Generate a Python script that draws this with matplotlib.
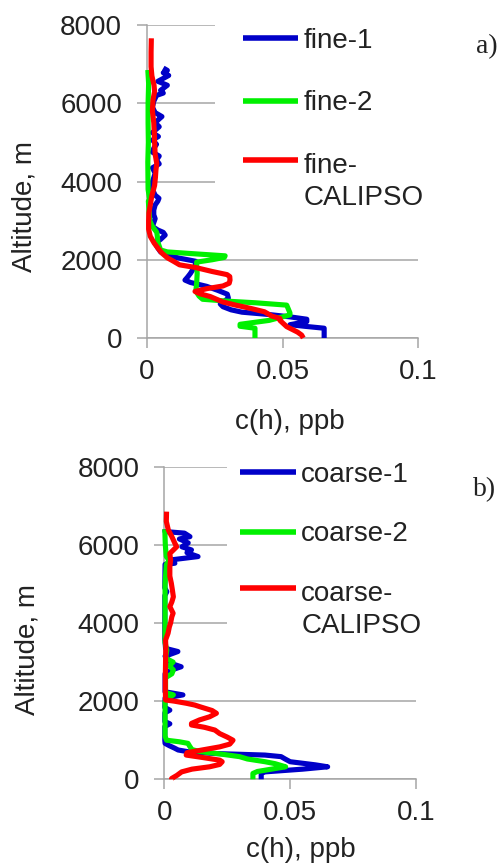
import numpy as np
import matplotlib
matplotlib.use("Agg")
import matplotlib.pyplot as plt
from matplotlib.legend_handler import HandlerLine2D

plt.rcParams['font.family'] = ['Liberation Sans', 'DejaVu Sans']

# ---------------- data (altitude m, concentration ppb) ----------------
fine1_h = [0, 250, 300, 340, 420, 480, 540, 600, 660, 720, 800, 870, 940, 1020, 1120, 1220,
           1320, 1420, 1480, 1560, 1650, 1760, 1860, 1960, 2040, 2120, 2200, 2300, 2420, 2520,
           2630, 2700, 2760, 2850, 2950, 3050, 3150, 3270, 3400, 3500, 3570, 3650, 3800, 3950,
           4100, 4210, 4350, 4450, 4550, 4650, 4750, 4850, 4950, 5060, 5150, 5250, 5400, 5500,
           5600, 5660, 5760, 5900, 6050, 6200, 6260, 6330, 6460, 6560, 6710, 6780, 6840, 6900]
fine1_c = [.0653, .0653, .058, .0527, .0589, .0589, .0527, .045, .035, .031, .028, .027, .0285,
           .030, .0296, .026, .022, .016, .0140, .0150, .016, .017, .0178, .018, .012, .007, .005,
           .004, .003, .005, .0067, .006, .004, .002, .0025, .003, .0025, .0025, .003, .004,
           .0044, .003, .002, .0018, .0025, .003, .002, .0045, .0035, .0045, .002, .0025, .0035,
           .002, .0042, .002, .0045, .003, .0045, .0055, .003, .002, .0025, .0035, .006, .005,
           .0075, .004, .008, .006, .0075, .006]

fine2_h = [0, 250, 300, 350, 450, 590, 640, 840, 900, 940, 990, 1070, 1200, 1400, 1650, 1850,
           1940, 2000, 2060, 2100, 2150, 2200, 2250, 2350, 2450, 2600, 2700, 2850, 3000, 3200,
           3500, 3530, 3800, 4500, 5000, 5500, 6000, 6500, 6850]
fine2_c = [.0398, .0398, .0343, .0343, .045, .0527, .0527, .0515, .040, .030, .0205, .0192, .018,
           .0183, .0185, .0183, .0183, .024, .0285, .0288, .018, .0075, .005, .0045, .004, .0038,
           .0036, .002, .001, .0008, .0005, .001, .0004, .0003, .0005, .0004, .0004, .0006, .0003]

fine3_h = [0, 75, 150, 290, 450, 500, 560, 670, 760, 840, 920, 1060, 1130, 1190, 1260, 1330,
           1400, 1480, 1570, 1620, 1700, 1800, 1870, 1960, 2050, 2170, 2300, 2430, 2600, 2780,
           3000, 3200, 3400, 3640, 3900, 4100, 4300, 4460, 4700, 5000, 5230, 5500, 5800, 6080,
           6300, 6460, 6700, 6935, 7300, 7660]
fine3_c = [.0576, .057, .0555, .0515, .049, .049, .046, .0433, .038, .0327, .028, .0233, .0195,
           .0177, .022, .028, .0303, .0306, .0305, .0295, .024, .018, .012, .0098, .0075, .0055,
           .004, .0026, .0012, .0006, .0006, .0007, .0012, .0018, .0028, .0031, .0033, .0036,
           .003, .0028, .0027, .0025, .002, .0022, .0028, .0026, .0018, .0015, .0015, .0016]

coarse1_h = [0, 150, 190, 260, 320, 370, 450, 520, 580, 620, 660, 700, 750, 800, 860, 920, 1000,
             1350, 1420, 1480, 1700, 1770, 1840, 2080, 2160, 2240, 2700, 2800, 2880, 2960, 3150,
             3270, 3350, 3600, 4700, 4800, 4900, 5500, 5530, 5610, 5700, 5800, 5870, 5950, 6050,
             6150, 6210, 6300, 6340, 6400]
coarse1_c = [.0385, .0385, .040, .055, .0649, .060, .050, .048, .0464, .040, .020, .010, .0055,
             .004, .002, .0003, .0002, .0002, .0022, .0002, .0002, .0022, .0002, .0003, .0074,
             .0003, .0003, .003, .0067, .003, .0003, .0054, .0005, .0002, .0002, .0010, .0002,
             .0003, .0042, .002, .0134, .009, .0108, .007, .0095, .006, .0102, .008, .0003, .0002]

coarse2_h = [0, 150, 200, 320, 400, 450, 520, 580, 650, 710, 760, 835, 920, 960, 1000, 1100,
             2000, 2100, 2160, 2220, 2600, 2700, 2800, 2900, 3000, 3100, 3300, 3500, 4000, 5000,
             5500, 5600, 5700, 6000, 6400]
coarse2_c = [.0352, .0352, .037, .0482, .044, .040, .033, .0299, .022, .0141, .011, .0102,
             .0094, .006, .0009, .0003, .0003, .002, .0036, .0005, .0005, .003, .0036, .002,
             .0035, .0005, .0010, .0003, .0003, .0003, .0008, .0020, .0008, .0004, .0002]

coarse3_h = [0, 20, 100, 190, 260, 320, 380, 450, 490, 560, 620, 680, 750, 830, 900, 1000, 1080,
             1170, 1260, 1330, 1390, 1430, 1520, 1600, 1690, 1760, 1860, 1900, 1945, 2000, 2030,
             2300, 2600, 3000, 3400, 3565, 3740, 3900, 4000, 4160, 4250, 4420, 4540, 4670, 4850,
             5015, 5200, 5440, 5610, 5780, 5950, 6040, 6210, 6380, 6600, 6850]
coarse3_c = [.0029, .0029, .005, .0069, .011, .018, .022, .023, .022, .015, .0087, .009, .015,
             .022, .026, .0273, .025, .022, .0201, .016, .0108, .0108, .014, .018, .0207, .019,
             .014, .0121, .0088, .004, .0005, .0004, .0004, .0005, .0006, .0005, .0015, .002,
             .0025, .003, .0035, .0022, .003, .0036, .0032, .0028, .0022, .0022, .0025, .0022,
             .0049, .0042, .003, .0016, .0008, .0009]

fine_labels = ['fine-1', 'fine-2', 'fine-\nCALIPSO']
coarse_labels = ['coarse-1', 'coarse-2', 'coarse-\nCALIPSO']
x_ticks = [0, 0.05, 0.1]
x_ticklabels = ['0', '0.05', '0.1']
y_ticks = [0, 2000, 4000, 6000, 8000]

# ---------------- style ----------------
W, H = 499, 867
GRID = '#A6A6A6'
TXT = '#222222'
COLORS = ['#0000C8', '#00F000', '#FF0000']
FS = 20
LW = 3.7


class FirstLineHandler(HandlerLine2D):
    """Place legend line at the first line of a two-line label."""
    def __init__(self, shift, **kw):
        super().__init__(**kw)
        self.shift = shift

    def create_artists(self, legend, orig_handle, xdescent, ydescent, width, height,
                       fontsize, trans):
        arts = super().create_artists(legend, orig_handle, xdescent, ydescent, width,
                                      height, fontsize, trans)
        for a in arts:
            a.set_ydata(np.asarray(a.get_ydata(), dtype=float) + self.shift * fontsize)
        return arts


fig = plt.figure(figsize=(W / 100, H / 100), dpi=100)


def panel(rect, series, labels, leg_xy, borderpad, labelspacing, ylab_xy, xlab_xy, tag, tag_xy):
    ax = fig.add_axes(rect)
    lines = []
    for (hh, cc), col, lab in zip(series, COLORS, labels):
        ln, = ax.plot(cc, hh, color=col, lw=LW, solid_joinstyle='round',
                      solid_capstyle='butt', clip_on=False, label=lab, zorder=3)
        lines.append(ln)
    ax.set_xlim(0, 0.1)
    ax.set_ylim(0, 8000)
    ax.set_xticks(x_ticks)
    ax.set_xticklabels(x_ticklabels)
    ax.set_yticks(y_ticks)
    ax.yaxis.grid(True, color=GRID, lw=1.1)
    ax.set_axisbelow(True)
    for s in ['top', 'right']:
        ax.spines[s].set_visible(False)
    for s in ['left', 'bottom']:
        ax.spines[s].set_color(GRID)
        ax.spines[s].set_linewidth(1.1)
    ax.tick_params(axis='both', direction='out', length=7, width=1.1, color=GRID,
                   labelsize=FS, labelcolor=TXT)
    ax.tick_params(axis='y', pad=11)
    ax.tick_params(axis='x', pad=8)
    ax.set_ylabel('Altitude, m', fontsize=FS, color=TXT)
    ax.set_xlabel('c(h), ppb', fontsize=FS, color=TXT)
    ax.yaxis.set_label_coords(*ylab_xy)
    ax.xaxis.set_label_coords(*xlab_xy)
    ax.yaxis.label.set_va('center')
    ax.xaxis.label.set_va('center')
    leg = ax.legend(lines, labels, loc='upper left', bbox_to_anchor=leg_xy,
                    bbox_transform=fig.transFigure, frameon=True, fancybox=False,
                    edgecolor='none', facecolor='white', framealpha=1, borderpad=borderpad,
                    borderaxespad=0, handlelength=2.0, handletextpad=0.2,
                    labelspacing=labelspacing, fontsize=FS,
                    handler_map={lines[2]: FirstLineHandler(0.79)})
    for t in leg.get_texts():
        t.set_color(TXT)
        t.set_linespacing(1.3)
    for lh in leg.get_lines():
        lh.set_linewidth(LW + 0.3)
    leg.set_zorder(2.5)
    fig.text(tag_xy[0] / W, 1 - tag_xy[1] / H, tag, family=['Liberation Serif', 'DejaVu Serif'],
             fontsize=20, ha='center', va='center', color=TXT)
    return ax


# top panel: axes pixel box x 147..418.3, y 25..338
panel([147 / W, 1 - 338 / H, (418.3 - 147) / W, 313 / H],
      [(fine1_h, fine1_c), (fine2_h, fine2_c), (fine3_h, fine3_c)], fine_labels,
      (215 / W, 1 + 0 / H), 1.0, 1.32, (-0.45, 0.42), (0.525, -0.267), 'a)', (487, 47))

# bottom panel: axes pixel box x 164.3..416, y 466.7..779.3
panel([164.3 / W, 1 - 779.3 / H, (416 - 164.3) / W, 312.6 / H],
      [(coarse1_h, coarse1_c), (coarse2_h, coarse2_c), (coarse3_h, coarse3_c)], coarse_labels,
      (227 / W, 1 - 449 / H), 0.47, 1.2, (-0.545, 0.414), (0.542, -0.226), 'b)', (485, 490))

fig.savefig('out.png', dpi=100)
